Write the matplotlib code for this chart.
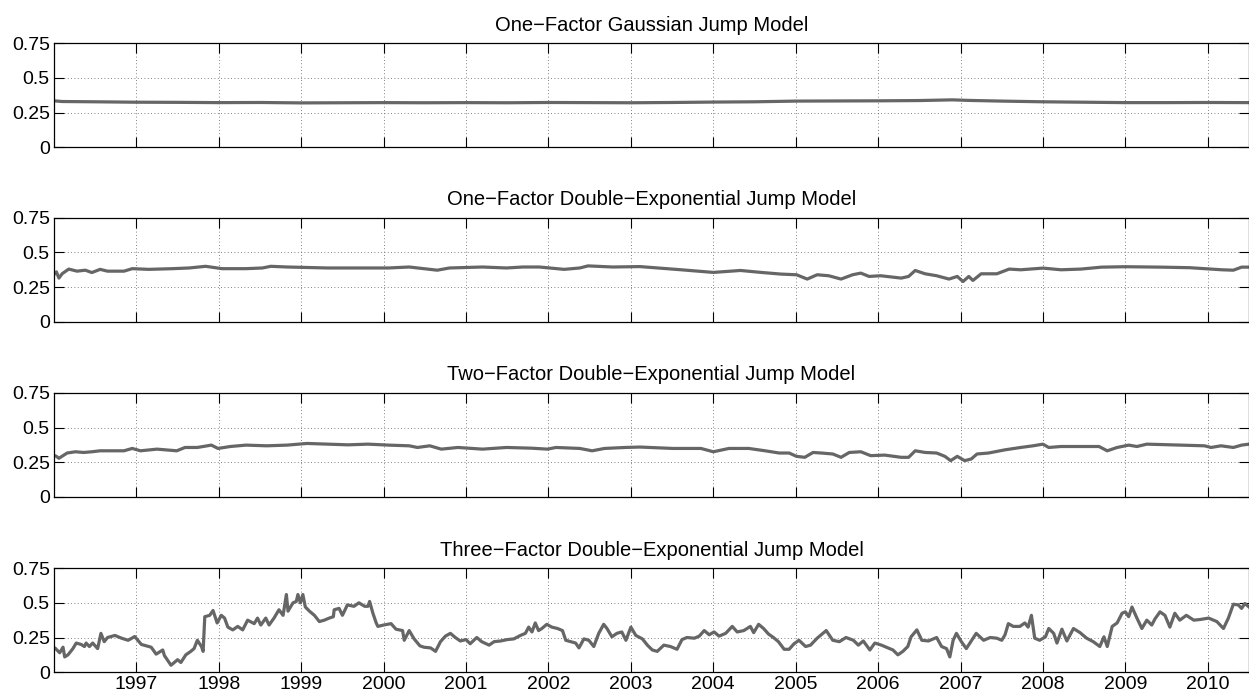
import numpy as np
import matplotlib
matplotlib.use("Agg")
from matplotlib import pyplot as plt

plt.rcParams['font.family'] = ['Liberation Sans', 'DejaVu Sans']

titles = [
    "One\u2212Factor Gaussian Jump Model",
    "One\u2212Factor Double\u2212Exponential Jump Model",
    "Two\u2212Factor Double\u2212Exponential Jump Model",
    "Three\u2212Factor Double\u2212Exponential Jump Model",
]

# one-factor gaussian
t_gauss = [1996.0, 1996.1, 1996.5, 1997.0, 1997.5, 1998.0, 1998.5, 1999.0, 1999.5, 2000.0,
           2000.5, 2001.0, 2001.5, 2002.0, 2002.5, 2003.0, 2003.5, 2004.0, 2004.5, 2005.0,
           2005.5, 2006.0, 2006.5, 2006.9, 2007.1, 2007.5, 2008.0, 2008.5, 2009.0, 2009.5,
           2010.0, 2010.5]
v_gauss = [0.335, 0.330, 0.328, 0.325, 0.324, 0.322, 0.323, 0.320, 0.321, 0.322,
           0.321, 0.322, 0.321, 0.323, 0.322, 0.321, 0.323, 0.326, 0.328, 0.333,
           0.334, 0.335, 0.337, 0.342, 0.338, 0.333, 0.328, 0.325, 0.322, 0.322,
           0.323, 0.322]

# one-factor double exponential
t_de1 = [1996.0, 1996.03, 1996.06, 1996.1, 1996.18, 1996.28, 1996.38, 1996.46, 1996.56, 1996.65,
         1996.85, 1996.95, 1997.15, 1997.44, 1997.64, 1997.84, 1998.04, 1998.33, 1998.53, 1998.63,
         1998.83, 1999.32, 1999.81, 2000.06, 2000.31, 2000.65, 2000.80, 2001.20, 2001.49, 2001.69,
         2001.89, 2002.19, 2002.38, 2002.48, 2002.78, 2003.11, 2003.61, 2004.0, 2004.33, 2004.58,
         2004.82, 2005.01, 2005.14, 2005.26, 2005.40, 2005.55, 2005.69, 2005.79, 2005.89, 2006.03,
         2006.28, 2006.37, 2006.45, 2006.57, 2006.71, 2006.86, 2006.96, 2007.03, 2007.10, 2007.15,
         2007.25, 2007.44, 2007.59, 2007.73, 2008.0, 2008.22, 2008.46, 2008.71, 2009.0, 2009.44,
         2009.78, 2010.17, 2010.31, 2010.41, 2010.5]
v_de1 = [0.340, 0.360, 0.315, 0.347, 0.380, 0.365, 0.372, 0.355, 0.378, 0.365,
         0.365, 0.383, 0.378, 0.383, 0.388, 0.400, 0.383, 0.383, 0.388, 0.400,
         0.395, 0.388, 0.388, 0.388, 0.395, 0.372, 0.388, 0.395, 0.388, 0.395,
         0.395, 0.378, 0.388, 0.403, 0.395, 0.398, 0.375, 0.356, 0.370, 0.356,
         0.344, 0.339, 0.308, 0.339, 0.332, 0.308, 0.339, 0.351, 0.327, 0.332,
         0.315, 0.327, 0.370, 0.346, 0.332, 0.308, 0.327, 0.290, 0.327, 0.298,
         0.346, 0.346, 0.380, 0.375, 0.387, 0.375, 0.380, 0.394, 0.397, 0.394,
         0.390, 0.375, 0.372, 0.394, 0.394]

# two-factor double exponential
t_de2 = [1996.0, 1996.03, 1996.06, 1996.16, 1996.26, 1996.36, 1996.46, 1996.56, 1996.65, 1996.85,
         1996.95, 1997.05, 1997.25, 1997.49, 1997.59, 1997.74, 1997.91, 1997.99, 1998.14, 1998.33,
         1998.58, 1998.83, 1999.07, 1999.32, 1999.57, 1999.81, 2000.06, 2000.31, 2000.41, 2000.56,
         2000.70, 2000.90, 2001.20, 2001.49, 2001.79, 2001.99, 2002.09, 2002.38, 2002.53, 2002.68,
         2002.93, 2003.11, 2003.51, 2003.85, 2004.0, 2004.19, 2004.43, 2004.63, 2004.80, 2004.92,
         2005.01, 2005.11, 2005.21, 2005.31, 2005.45, 2005.55, 2005.65, 2005.79, 2005.91, 2006.08,
         2006.28, 2006.37, 2006.45, 2006.57, 2006.71, 2006.81, 2006.88, 2006.96, 2007.05, 2007.13,
         2007.20, 2007.34, 2007.54, 2007.73, 2007.88, 2008.0, 2008.07, 2008.22, 2008.46, 2008.68,
         2008.78, 2008.90, 2009.04, 2009.14, 2009.26, 2009.67, 2009.96, 2010.04, 2010.16, 2010.31,
         2010.41, 2010.5]
v_de2 = [0.300, 0.293, 0.279, 0.317, 0.326, 0.321, 0.326, 0.333, 0.333, 0.333,
         0.350, 0.333, 0.345, 0.333, 0.357, 0.357, 0.374, 0.350, 0.364, 0.374,
         0.369, 0.374, 0.386, 0.381, 0.376, 0.381, 0.374, 0.369, 0.357, 0.369,
         0.345, 0.357, 0.345, 0.357, 0.352, 0.345, 0.357, 0.350, 0.333, 0.350,
         0.357, 0.360, 0.350, 0.350, 0.326, 0.350, 0.350, 0.333, 0.317, 0.317,
         0.293, 0.286, 0.321, 0.317, 0.310, 0.286, 0.321, 0.326, 0.298, 0.302,
         0.286, 0.286, 0.333, 0.321, 0.317, 0.293, 0.262, 0.293, 0.262, 0.274,
         0.310, 0.317, 0.340, 0.357, 0.369, 0.381, 0.357, 0.364, 0.364, 0.364,
         0.333, 0.357, 0.374, 0.364, 0.381, 0.374, 0.369, 0.357, 0.369, 0.357,
         0.374, 0.381]

# three-factor double exponential
t_de3 = [1996.02, 1996.07, 1996.11, 1996.13, 1996.17, 1996.23, 1996.27, 1996.33, 1996.37, 1996.39,
         1996.43, 1996.47, 1996.53, 1996.57, 1996.61, 1996.65, 1996.74, 1996.82, 1996.90, 1996.98,
         1997.06, 1997.18, 1997.24, 1997.32, 1997.34, 1997.42, 1997.50, 1997.54, 1997.60, 1997.66,
         1997.70, 1997.74, 1997.79, 1997.81, 1997.83, 1997.89, 1997.93, 1997.98, 1998.03, 1998.07,
         1998.11, 1998.17, 1998.23, 1998.29, 1998.35, 1998.43, 1998.47, 1998.51, 1998.57, 1998.61,
         1998.67, 1998.73, 1998.78, 1998.82, 1998.84, 1998.90, 1998.94, 1998.96, 1998.99, 1999.02,
         1999.05, 1999.10, 1999.16, 1999.22, 1999.28, 1999.34, 1999.39, 1999.40, 1999.46, 1999.50,
         1999.56, 1999.64, 1999.70, 1999.77, 1999.81, 1999.83, 1999.87, 1999.91, 1999.93, 2000.0,
         2000.09, 2000.15, 2000.23, 2000.25, 2000.31, 2000.37, 2000.44, 2000.49, 2000.57, 2000.63,
         2000.69, 2000.75, 2000.81, 2000.87, 2000.93, 2001.0, 2001.05, 2001.13, 2001.19, 2001.28,
         2001.34, 2001.42, 2001.50, 2001.58, 2001.66, 2001.72, 2001.76, 2001.80, 2001.84, 2001.88,
         2001.92, 2001.98, 2002.04, 2002.11, 2002.17, 2002.21, 2002.27, 2002.33, 2002.37, 2002.43,
         2002.49, 2002.55, 2002.61, 2002.67, 2002.71, 2002.77, 2002.83, 2002.89, 2002.94, 2003.0,
         2003.06, 2003.14, 2003.20, 2003.26, 2003.32, 2003.40, 2003.48, 2003.56, 2003.62, 2003.68,
         2003.77, 2003.83, 2003.89, 2003.95, 2004.01, 2004.07, 2004.15, 2004.23, 2004.29, 2004.37,
         2004.45, 2004.49, 2004.55, 2004.61, 2004.67, 2004.73, 2004.79, 2004.86, 2004.92, 2004.98,
         2005.04, 2005.12, 2005.18, 2005.26, 2005.37, 2005.45, 2005.53, 2005.61, 2005.70, 2005.76,
         2005.82, 2005.90, 2005.96, 2006.04, 2006.12, 2006.18, 2006.24, 2006.30, 2006.36, 2006.40,
         2006.47, 2006.53, 2006.61, 2006.71, 2006.77, 2006.83, 2006.87, 2006.91, 2006.95, 2007.01,
         2007.07, 2007.13, 2007.19, 2007.28, 2007.36, 2007.44, 2007.50, 2007.54, 2007.58, 2007.64,
         2007.72, 2007.78, 2007.82, 2007.86, 2007.90, 2007.96, 2008.03, 2008.07, 2008.13, 2008.17,
         2008.23, 2008.29, 2008.37, 2008.45, 2008.53, 2008.61, 2008.69, 2008.74, 2008.78, 2008.84,
         2008.90, 2008.96, 2009.00, 2009.04, 2009.08, 2009.14, 2009.20, 2009.26, 2009.32, 2009.36,
         2009.42, 2009.48, 2009.54, 2009.60, 2009.66, 2009.74, 2009.83, 2009.91, 2010.01, 2010.11,
         2010.19, 2010.25, 2010.31, 2010.37, 2010.41, 2010.45, 2010.50]
v_de3 = [0.170, 0.140, 0.180, 0.110, 0.125, 0.170, 0.210, 0.200, 0.185, 0.210,
         0.185, 0.210, 0.170, 0.280, 0.220, 0.250, 0.265, 0.245, 0.230, 0.257,
         0.200, 0.180, 0.130, 0.160, 0.120, 0.050, 0.090, 0.070, 0.125, 0.150,
         0.170, 0.230, 0.185, 0.150, 0.400, 0.410, 0.445, 0.355, 0.410, 0.390,
         0.325, 0.305, 0.330, 0.305, 0.375, 0.350, 0.390, 0.340, 0.390, 0.340,
         0.390, 0.450, 0.410, 0.560, 0.440, 0.500, 0.510, 0.560, 0.500, 0.560,
         0.470, 0.440, 0.410, 0.365, 0.375, 0.390, 0.400, 0.450, 0.460, 0.410,
         0.485, 0.475, 0.500, 0.475, 0.475, 0.510, 0.425, 0.355, 0.330, 0.340,
         0.350, 0.310, 0.300, 0.230, 0.300, 0.240, 0.190, 0.180, 0.175, 0.150,
         0.220, 0.260, 0.280, 0.250, 0.225, 0.235, 0.205, 0.250, 0.220, 0.195,
         0.220, 0.225, 0.235, 0.240, 0.265, 0.280, 0.325, 0.290, 0.355, 0.300,
         0.315, 0.345, 0.325, 0.315, 0.300, 0.230, 0.220, 0.210, 0.175, 0.240,
         0.230, 0.185, 0.280, 0.345, 0.315, 0.255, 0.280, 0.290, 0.230, 0.325,
         0.265, 0.240, 0.195, 0.160, 0.150, 0.195, 0.185, 0.165, 0.235, 0.250,
         0.245, 0.260, 0.300, 0.270, 0.290, 0.260, 0.280, 0.330, 0.290, 0.300,
         0.330, 0.285, 0.345, 0.315, 0.275, 0.250, 0.220, 0.165, 0.165, 0.205,
         0.230, 0.185, 0.195, 0.245, 0.300, 0.230, 0.220, 0.250, 0.230, 0.195,
         0.225, 0.160, 0.210, 0.195, 0.175, 0.160, 0.125, 0.150, 0.185, 0.255,
         0.305, 0.230, 0.225, 0.250, 0.185, 0.170, 0.110, 0.230, 0.280, 0.220,
         0.170, 0.225, 0.280, 0.230, 0.250, 0.245, 0.230, 0.270, 0.350, 0.330,
         0.330, 0.355, 0.325, 0.410, 0.245, 0.230, 0.255, 0.315, 0.280, 0.210,
         0.310, 0.225, 0.315, 0.285, 0.245, 0.220, 0.185, 0.255, 0.185, 0.330,
         0.355, 0.425, 0.435, 0.400, 0.470, 0.390, 0.315, 0.375, 0.340, 0.385,
         0.435, 0.410, 0.325, 0.425, 0.375, 0.410, 0.375, 0.380, 0.390, 0.365,
         0.315, 0.390, 0.490, 0.485, 0.460, 0.495, 0.470]

series = [(t_gauss, v_gauss), (t_de1, v_de1), (t_de2, v_de2), (t_de3, v_de3)]
year_ticks = list(range(1997, 2011))
y_ticks = [0, 0.25, 0.5, 0.75]
y_labels = ["0", "0.25", "0.5", "0.75"]

fig = plt.figure(figsize=(12.49, 6.98), dpi=100)

left = 0.0432
width = 1.0 - left
height = 0.149
bottoms = [0.789, 0.539, 0.288, 0.037]

for i in range(4):
    ax = fig.add_axes([left, bottoms[i], width, height])
    t, v = series[i]
    ax.plot(t, v, color="#666666", lw=2.3, solid_joinstyle="round")
    ax.set_xlim(1996.0, 2010.5)
    ax.set_ylim(0, 0.75)
    ax.set_xticks(year_ticks)
    ax.set_yticks(y_ticks)
    ax.set_yticklabels(y_labels)
    if i == 3:
        ax.set_xticklabels([str(y) for y in year_ticks])
    else:
        ax.set_xticklabels([])
    ax.tick_params(direction="in", top=True, right=True, length=7, width=0.8,
                   labelsize=14, pad=3)
    ax.grid(True, color="0.35", linestyle=(0, (1, 3)), lw=0.6)
    for s in ax.spines.values():
        s.set_linewidth(0.9)
    ax.set_title(titles[i], fontsize=14.5, pad=9)

fig.savefig("out.png", dpi=100)
